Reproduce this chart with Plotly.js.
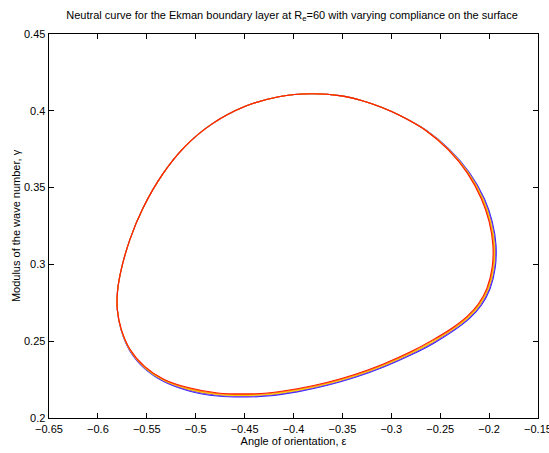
<!DOCTYPE html>
<html>
<head>
<meta charset="utf-8">
<script src="https://cdn.plot.ly/plotly-3.0.1.min.js"></script>
<style>html,body{margin:0;padding:0;background:#fff;}#chart{width:549px;height:453px;}</style>
</head>
<body>
<div id="chart"></div>
<script>
// Neutral curves (angle of orientation epsilon, modulus of wave number gamma), one per compliance level
const epsRed    = [-0.3815,-0.3509,-0.3305,-0.3101,-0.2901,-0.2648,-0.2417,-0.2224,-0.2079,-0.2000,-0.1961,-0.1969,-0.2023,-0.2111,-0.2225,-0.2374,-0.2581,-0.2803,-0.3081,-0.3367,-0.3662,-0.3961,-0.4265,-0.4469,-0.4776,-0.5078,-0.5327,-0.5520,-0.5672,-0.5760,-0.5801,-0.5800,-0.5763,-0.5674,-0.5541,-0.5336,-0.5113,-0.4836,-0.4493,-0.4151,-0.3815];
const gamRed    = [0.4111,0.4097,0.4067,0.4023,0.3966,0.3872,0.3746,0.3596,0.3426,0.3278,0.3124,0.2981,0.2844,0.2742,0.2662,0.2588,0.2507,0.2431,0.2352,0.2285,0.2231,0.2190,0.2163,0.2157,0.2163,0.2198,0.2253,0.2335,0.2448,0.2575,0.2704,0.2820,0.2962,0.3160,0.3364,0.3589,0.3765,0.3913,0.4029,0.4092,0.4111];

const epsOrange = [-0.3815,-0.3509,-0.3305,-0.3101,-0.2901,-0.2646,-0.2413,-0.2218,-0.2071,-0.1992,-0.1953,-0.1961,-0.2015,-0.2103,-0.2218,-0.2369,-0.2577,-0.2801,-0.3080,-0.3367,-0.3662,-0.3961,-0.4265,-0.4469,-0.4776,-0.5078,-0.5327,-0.5521,-0.5673,-0.5761,-0.5801,-0.5800,-0.5763,-0.5674,-0.5541,-0.5336,-0.5113,-0.4836,-0.4493,-0.4151,-0.3815];
const gamOrange = [0.4111,0.4097,0.4067,0.4023,0.3966,0.3872,0.3746,0.3596,0.3426,0.3278,0.3124,0.2981,0.2843,0.2740,0.2659,0.2584,0.2502,0.2426,0.2347,0.2280,0.2226,0.2185,0.2158,0.2152,0.2158,0.2193,0.2249,0.2332,0.2446,0.2575,0.2704,0.2820,0.2962,0.3160,0.3364,0.3589,0.3765,0.3913,0.4029,0.4092,0.4111];

const epsYellow = [-0.3815,-0.3509,-0.3305,-0.3101,-0.2901,-0.2644,-0.2409,-0.2212,-0.2063,-0.1984,-0.1945,-0.1953,-0.2007,-0.2095,-0.2211,-0.2364,-0.2573,-0.2799,-0.3079,-0.3367,-0.3662,-0.3961,-0.4265,-0.4469,-0.4776,-0.5078,-0.5327,-0.5522,-0.5674,-0.5762,-0.5801,-0.5800,-0.5763,-0.5674,-0.5541,-0.5336,-0.5113,-0.4836,-0.4493,-0.4151,-0.3815];
const gamYellow = [0.4111,0.4097,0.4067,0.4023,0.3966,0.3872,0.3746,0.3596,0.3426,0.3278,0.3124,0.2981,0.2842,0.2738,0.2656,0.2580,0.2497,0.2421,0.2342,0.2275,0.2221,0.2180,0.2153,0.2147,0.2153,0.2188,0.2245,0.2329,0.2444,0.2575,0.2704,0.2820,0.2962,0.3160,0.3364,0.3589,0.3765,0.3913,0.4029,0.4092,0.4111];

const epsViolet = [-0.3815,-0.3509,-0.3305,-0.3101,-0.2901,-0.2642,-0.2405,-0.2206,-0.2055,-0.1976,-0.1937,-0.1945,-0.1999,-0.2087,-0.2204,-0.2359,-0.2569,-0.2797,-0.3078,-0.3367,-0.3662,-0.3961,-0.4265,-0.4469,-0.4776,-0.5078,-0.5327,-0.5523,-0.5675,-0.5763,-0.5801,-0.5800,-0.5763,-0.5674,-0.5541,-0.5336,-0.5113,-0.4836,-0.4493,-0.4151,-0.3815];
const gamViolet = [0.4111,0.4097,0.4067,0.4023,0.3966,0.3872,0.3746,0.3596,0.3426,0.3278,0.3124,0.2981,0.2841,0.2736,0.2653,0.2576,0.2492,0.2416,0.2337,0.2270,0.2216,0.2175,0.2148,0.2142,0.2148,0.2183,0.2241,0.2326,0.2442,0.2575,0.2704,0.2820,0.2962,0.3160,0.3364,0.3589,0.3765,0.3913,0.4029,0.4092,0.4111];

const epsBlue   = [-0.3815,-0.3509,-0.3305,-0.3101,-0.2901,-0.2640,-0.2401,-0.2200,-0.2047,-0.1968,-0.1929,-0.1937,-0.1991,-0.2079,-0.2197,-0.2354,-0.2565,-0.2795,-0.3077,-0.3367,-0.3662,-0.3961,-0.4265,-0.4469,-0.4776,-0.5078,-0.5327,-0.5524,-0.5676,-0.5764,-0.5801,-0.5800,-0.5763,-0.5674,-0.5541,-0.5336,-0.5113,-0.4836,-0.4493,-0.4151,-0.3815];
const gamBlue   = [0.4111,0.4097,0.4067,0.4023,0.3966,0.3872,0.3746,0.3596,0.3426,0.3278,0.3124,0.2981,0.2840,0.2734,0.2650,0.2572,0.2487,0.2411,0.2332,0.2265,0.2211,0.2170,0.2143,0.2137,0.2143,0.2178,0.2237,0.2323,0.2440,0.2575,0.2704,0.2820,0.2962,0.3160,0.3364,0.3589,0.3765,0.3913,0.4029,0.4092,0.4111];

const xTicks = [-0.65,-0.6,-0.55,-0.5,-0.45,-0.4,-0.35,-0.3,-0.25,-0.2,-0.15];
const yTicks = [0.2,0.25,0.3,0.35,0.4,0.45];

const series = [
  {x: epsBlue,   y: gamBlue,   color: '#2a2aff'},
  {x: epsViolet, y: gamViolet, color: '#8a2be2'},
  {x: epsYellow, y: gamYellow, color: '#f2e200'},
  {x: epsOrange, y: gamOrange, color: '#ff8c00'},
  {x: epsRed,    y: gamRed,    color: '#ff1a00'}
];

const traces = series.map(s => ({
  x: s.x, y: s.y, type: 'scatter', mode: 'lines',
  line: {color: s.color, width: 1.1, shape: 'spline', smoothing: 1},
  hoverinfo: 'skip', showlegend: false
}));

const font = {family: '"Liberation Sans", Arial, Helvetica, sans-serif', size: 11, color: '#000'};

const axisCommon = {
  showgrid: false, zeroline: false, showline: true, linecolor: '#000', linewidth: 1.4,
  mirror: 'ticks', ticks: 'inside', ticklen: 5, tickwidth: 1, tickcolor: '#000',
  tickfont: font, ticklabeloverflow: 'allow'
};

const layout = {
  width: 549, height: 453,
  margin: {l: 49, r: 11, t: 34, b: 35},
  paper_bgcolor: '#fff', plot_bgcolor: '#fff',
  font: font,
  title: {text: 'Neutral curve for the Ekman boundary layer at R<sub>e</sub>=60 with varying compliance on the surface',
          font: font, x: 0.532, xanchor: 'center', y: 0.967, yanchor: 'middle'},
  xaxis: Object.assign({}, axisCommon, {
    range: [-0.65, -0.15], tickvals: xTicks,
    ticktext: xTicks.map(v => String(v).replace('-', '\u2212')),
    title: {text: 'Angle of orientation, \u03b5', font: font, standoff: 2}
  }),
  yaxis: Object.assign({}, axisCommon, {
    range: [0.2, 0.45], tickvals: yTicks,
    ticktext: yTicks.map(v => String(v)),
    title: {text: 'Modulus of the wave number, \u03b3', font: font, standoff: 1}
  })
};

Plotly.newPlot('chart', traces, layout, {displayModeBar: false, staticPlot: true});
</script>
</body>
</html>
